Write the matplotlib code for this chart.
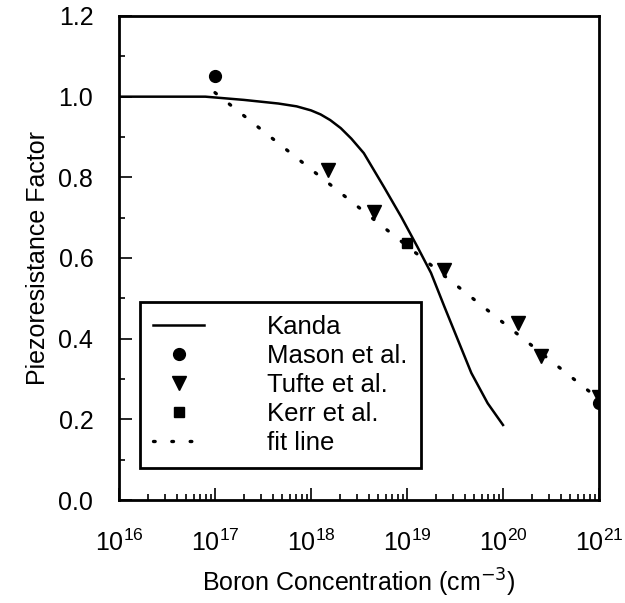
import numpy as np
import matplotlib
matplotlib.use("Agg")
import matplotlib.pyplot as plt
from matplotlib.ticker import MultipleLocator, LogLocator, NullFormatter

plt.rcParams['font.family'] = ['Liberation Sans', 'DejaVu Sans']

# Kanda theory curve (log10 of concentration, factor)
kanda_logx = [16, 16.9, 17.3, 17.66, 17.85, 18.0, 18.1, 18.2, 18.31, 18.42, 18.55, 18.76, 18.94,
              19.11, 19.25, 19.39, 19.53, 19.67, 19.84, 20.0]
kanda_y = [1.0, 1.0, 0.992, 0.983, 0.976, 0.966, 0.956, 0.942, 0.922, 0.896, 0.86, 0.776, 0.702,
           0.627, 0.563, 0.479, 0.397, 0.315, 0.24, 0.186]

# measurements
mason_x = [1e17, 1e21]
mason_y = [1.05, 0.24]
tufte_x = [1.5e18, 4.5e18, 2.4e19, 1.45e20, 2.5e20, 1e21]
tufte_y = [0.817, 0.713, 0.57, 0.44, 0.356, 0.255]
kerr_x = [1e19]
kerr_y = [0.636]

# fit line
fit_x = [1e17, 1e21]
fit_y = [1.01, 0.25]

fig = plt.figure(figsize=(6.25, 6.03), dpi=100)
ax = fig.add_axes([119/625, 1-500/603, 480/625, 484/603])

kx = 10 ** np.array(kanda_logx)
ax.plot(kx, kanda_y, color='black', lw=1.8, label='Kanda')
ax.plot(mason_x, mason_y, 'o', color='black', ms=8.5, label='Mason et al.')
ax.plot(tufte_x, tufte_y, 'v', color='black', ms=9.5, label='Tufte et al.')
ax.plot(kerr_x, kerr_y, 's', color='black', ms=7, label='Kerr et al.')
ax.plot(fit_x, fit_y, color='black', lw=2.4, linestyle=(0, (0.5, 5)),
        dash_capstyle='round', label='fit line')

ax.set_xscale('log')
ax.set_xlim(1e16, 1e21)
ax.set_ylim(0, 1.2)
ax.yaxis.set_major_locator(MultipleLocator(0.2))
ax.yaxis.set_minor_locator(MultipleLocator(0.1))
ax.yaxis.set_major_formatter(plt.FormatStrFormatter('%.1f'))
ax.xaxis.set_major_locator(LogLocator(base=10, numticks=10))
ax.xaxis.set_minor_locator(LogLocator(base=10, subs=np.arange(2, 10), numticks=20))
ax.xaxis.set_minor_formatter(NullFormatter())

ax.tick_params(which='both', direction='in', width=1.2, labelsize=18, colors='black')
ax.tick_params(which='major', length=9, pad=18.5)
ax.tick_params(which='minor', length=4)
ax.tick_params(axis='x', which='major', pad=21)
for s in ax.spines.values():
    s.set_linewidth(2)

ax.set_xlabel('Boron Concentration (cm$^{-3}$)', fontsize=18, labelpad=8)
ax.set_ylabel('Piezoresistance Factor', fontsize=18, labelpad=6)

leg = ax.legend(loc='lower left', bbox_to_anchor=(0.044, 0.066), fontsize=18.5,
                frameon=True, fancybox=False, edgecolor='black', framealpha=1,
                handlelength=2.0, handletextpad=2.45, labelspacing=0.2,
                borderpad=0.5, borderaxespad=0)
leg.get_frame().set_linewidth(2)

fig.savefig('out.png', dpi=100)
